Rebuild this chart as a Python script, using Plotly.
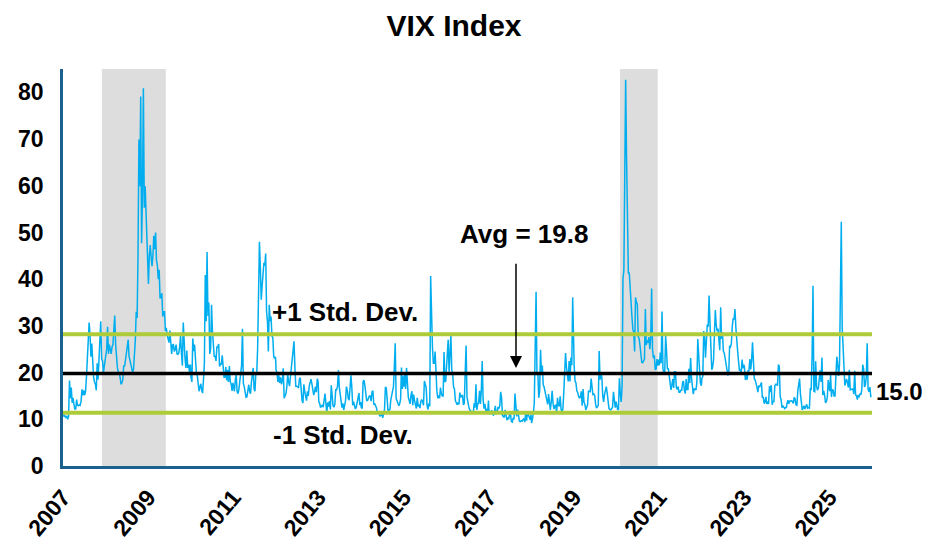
import pandas as pd
import plotly.graph_objects as go

# ---------------- data (approximate weekly VIX levels) -------------
vix_2007 = [11.5, 10.5, 10.8, 10.4, 10.6, 10.0, 10.6, 18.3, 14.5, 16.8, 13.5, 14.6,
            13.2, 12.2, 12.2, 14.2, 13.0, 12.9, 13.1, 13.0, 13.9, 16.4, 15.1, 16.2,
            15.2, 16.0, 19.0, 24.2, 25.2, 30.7, 28.2, 23.4, 26.2, 20.0, 19.0, 18.0,
            17.5, 16.2, 22.0, 18.5, 23.2, 28.0, 31.0, 22.9, 22.5, 20.0, 21.7, 22.5]
vix_2008 = [23.2, 25.0, 29.8, 24.0, 26.0, 25.0, 24.0, 25.5, 26.0, 29.0, 32.2, 26.0,
            22.5, 21.0, 20.2, 20.0, 19.0, 17.5, 17.8, 18.5, 21.5, 21.3, 22.7, 24.0,
            25.5, 27.0, 23.5, 22.5, 21.5, 20.5, 20.0, 20.8, 24.0, 27.0, 33.0, 31.7,
            45.0, 69.9, 59.9, 79.1, 47.7, 58.5, 80.9, 55.3, 59.9, 54.3, 44.9, 40.0]
vix_2009 = [39.0, 45.0, 47.3, 44.8, 42.8, 45.0, 49.3, 46.4, 50.0, 44.0, 43.0, 40.0,
            42.0, 36.0, 36.0, 37.0, 32.0, 33.0, 33.0, 28.9, 29.6, 28.0, 27.0, 26.4,
            29.0, 26.0, 24.0, 25.9, 26.0, 24.5, 25.0, 26.0, 24.0, 23.9, 24.2, 25.6,
            28.0, 24.0, 21.5, 30.7, 24.0, 22.9, 21.0, 24.7, 21.0, 21.7, 20.0, 21.7]
vix_2010 = [19.0, 18.0, 27.3, 24.6, 26.0, 22.7, 20.0, 19.5, 17.4, 16.0, 16.9, 17.6,
            16.2, 15.6, 18.5, 22.0, 40.9, 31.0, 45.8, 32.1, 35.0, 24.0, 25.1, 34.5,
            29.0, 24.9, 23.5, 23.5, 22.5, 25.5, 25.5, 26.1, 21.3, 22.0, 21.7, 23.7,
            20.0, 19.0, 19.0, 21.2, 18.3, 20.6, 18.0, 21.4, 18.0, 17.6, 16.1, 17.8]
vix_2011 = [17.1, 16.0, 18.5, 19.5, 16.0, 15.5, 16.4, 18.4, 19.0, 21.5, 29.4, 17.7,
            17.0, 16.0, 14.7, 14.8, 17.0, 17.4, 16.0, 15.5, 17.9, 19.0, 21.0, 16.5,
            16.0, 19.9, 20.0, 25.3, 37.0, 48.0, 42.7, 35.6, 38.5, 41.0, 43.5, 42.9,
            45.5, 33.0, 31.0, 24.5, 34.5, 31.0, 32.0, 27.8, 27.5, 23.5, 23.0, 23.4]
vix_2012 = [20.5, 20.0, 18.0, 19.4, 17.8, 19.0, 17.5, 18.4, 20.9, 14.5, 15.0, 15.5,
            17.0, 19.6, 18.0, 17.1, 19.0, 21.0, 22.0, 24.1, 26.7, 21.2, 17.1, 17.1,
            17.0, 16.7, 18.6, 18.9, 15.6, 14.0, 13.5, 17.5, 16.0, 14.5, 14.0, 16.0,
            15.0, 17.1, 18.0, 18.6, 17.6, 16.4, 15.2, 15.9, 17.0, 15.8, 18.7, 18.0]
vix_2013 = [13.8, 13.4, 12.5, 12.9, 13.0, 12.6, 14.5, 15.5, 13.4, 11.3, 13.6, 12.7,
            13.9, 12.1, 17.3, 13.5, 12.9, 12.6, 13.2, 16.3, 16.3, 17.1, 20.5, 16.9,
            14.9, 14.0, 12.5, 13.4, 12.0, 13.0, 14.0, 17.0, 16.2, 14.5, 14.1, 16.6,
            19.4, 17.0, 13.0, 13.8, 13.0, 12.2, 12.6, 13.7, 15.4, 15.6, 13.0, 13.7]
vix_2014 = [12.5, 12.3, 18.1, 18.4, 17.2, 15.0, 14.0, 14.0, 14.5, 15.0, 15.0, 13.9,
            15.9, 16.1, 13.1, 13.4, 12.9, 12.4, 11.4, 11.4, 11.0, 10.7, 10.8, 11.3,
            10.3, 11.8, 12.1, 16.9, 16.7, 14.2, 11.5, 12.0, 12.1, 14.1, 15.2, 16.3,
            17.0, 21.2, 26.3, 14.5, 14.0, 13.3, 12.9, 13.3, 14.3, 21.1, 16.5, 19.2]
vix_2015 = [17.0, 20.0, 16.5, 21.0, 17.3, 14.7, 14.0, 13.3, 15.2, 16.0, 13.0, 15.3,
            14.0, 13.0, 12.3, 14.6, 12.9, 13.0, 12.4, 13.8, 14.2, 13.8, 13.0, 18.2,
            17.0, 16.8, 13.0, 12.1, 13.4, 12.8, 40.7, 28.4, 25.6, 22.0, 22.0, 24.5,
            18.0, 16.0, 14.5, 15.1, 14.5, 16.8, 15.5, 15.0, 15.0, 24.4, 18.0, 18.2]
vix_2016 = [20.7, 24.4, 27.0, 20.2, 23.4, 28.1, 20.5, 19.8, 16.9, 16.5, 14.0, 13.6,
            13.1, 13.6, 13.2, 15.7, 14.7, 15.0, 15.2, 13.1, 13.5, 20.0, 25.8, 14.8,
            13.2, 12.7, 12.0, 11.9, 11.4, 11.3, 11.3, 13.4, 12.5, 17.5, 12.0, 13.3,
            13.5, 16.1, 13.3, 16.2, 22.5, 14.2, 12.3, 13.3, 11.8, 12.2, 11.4, 14.0]
vix_2017 = [11.3, 11.2, 11.5, 11.9, 11.0, 10.9, 11.5, 12.9, 11.2, 11.3, 12.5, 12.4,
            12.9, 15.9, 14.6, 10.8, 10.6, 10.4, 12.0, 10.4, 9.8, 10.4, 10.0, 11.2,
            11.2, 9.5, 9.4, 10.3, 10.0, 15.5, 11.3, 10.6, 12.1, 10.2, 9.6, 9.5,
            9.7, 9.6, 9.8, 10.2, 9.4, 11.4, 9.7, 11.3, 11.0, 10.2, 9.9, 11.0]
vix_2018 = [9.2, 10.2, 11.3, 13.5, 29.1, 37.3, 19.5, 19.9, 14.6, 16.0, 24.9, 19.9,
            21.5, 17.4, 16.9, 15.9, 14.8, 13.4, 13.2, 15.4, 12.7, 12.0, 13.8, 16.1,
            13.4, 12.2, 12.9, 13.0, 11.2, 14.6, 12.9, 12.9, 14.9, 12.1, 11.7, 12.1,
            15.7, 21.3, 24.2, 21.2, 19.5, 18.1, 22.5, 18.1, 23.2, 21.6, 36.1, 25.4]
vix_2019 = [21.4, 18.2, 17.8, 16.1, 15.7, 14.9, 14.5, 14.8, 16.0, 12.9, 16.5, 13.7,
            13.2, 12.0, 12.6, 13.1, 16.0, 16.0, 15.9, 18.7, 16.3, 15.3, 15.4, 15.1,
            13.3, 12.4, 12.7, 13.0, 24.6, 18.5, 19.9, 19.0, 15.0, 13.7, 15.3, 16.2,
            17.0, 15.6, 14.3, 12.3, 12.1, 12.0, 12.3, 12.6, 15.9, 13.9, 12.5, 13.8]
vix_2020 = [12.5, 12.1, 12.1, 18.8, 15.5, 13.7, 17.1, 40.1, 41.9, 57.8, 82.7, 66.0,
            46.8, 41.2, 41.4, 37.2, 34.0, 32.0, 29.3, 28.6, 24.5, 36.1, 35.1, 34.7,
            27.7, 27.3, 25.8, 24.5, 22.2, 22.1, 22.5, 22.9, 33.6, 25.9, 26.9, 26.4,
            27.6, 25.0, 27.4, 38.0, 24.9, 23.1, 23.7, 20.6, 20.8, 22.9, 21.5, 22.8]
vix_2021 = [21.6, 24.3, 22.0, 33.1, 20.9, 19.9, 19.9, 27.9, 24.7, 20.7, 20.9, 19.4,
            16.7, 16.3, 17.3, 18.6, 16.7, 20.2, 20.2, 16.8, 16.4, 17.0, 15.8, 15.8,
            16.2, 16.2, 17.9, 18.2, 16.2, 15.5, 18.6, 16.4, 16.4, 20.8, 17.8, 23.1,
            18.8, 16.3, 15.4, 16.5, 16.5, 16.3, 17.9, 27.2, 21.6, 20.6, 17.7, 17.2]
vix_2022 = [18.8, 19.2, 28.9, 27.7, 23.2, 27.4, 30.3, 29.8, 36.5, 30.8, 23.9, 20.6,
            21.2, 22.7, 28.2, 33.4, 30.2, 28.9, 29.4, 25.7, 24.8, 34.0, 27.2, 28.7,
            24.6, 24.2, 23.0, 21.3, 21.1, 19.5, 19.6, 25.6, 25.5, 26.3, 29.9, 31.6,
            31.4, 33.6, 29.7, 25.9, 24.6, 22.5, 20.5, 20.6, 20.0, 22.8, 20.9, 21.7]
vix_2023 = [21.1, 18.4, 19.8, 18.5, 20.5, 20.3, 22.9, 20.7, 22.6, 26.5, 21.7, 18.7,
            18.4, 17.1, 16.9, 15.8, 17.2, 16.9, 17.5, 17.9, 14.6, 14.8, 13.4, 13.6,
            14.8, 13.3, 13.6, 13.3, 17.1, 15.8, 17.3, 13.1, 13.8, 13.8, 17.2, 17.5,
            17.5, 17.2, 21.7, 21.3, 14.9, 14.2, 12.5, 12.9, 12.6, 12.3, 12.5, 12.5]
vix_2024 = [13.4, 14.1, 13.3, 13.9, 13.9, 14.0, 13.8, 13.4, 14.7, 14.4, 13.1, 13.0,
            16.0, 17.3, 18.7, 15.4, 12.7, 12.0, 12.4, 12.9, 12.2, 12.7, 13.2, 12.4,
            12.5, 12.4, 16.5, 16.4, 23.4, 38.6, 16.0, 15.9, 22.4, 17.1, 16.2, 16.7,
            19.2, 20.5, 18.0, 23.2, 15.2, 16.1, 15.2, 13.5, 13.8, 14.7, 18.4, 17.4]
vix_2025 = [16.0, 19.5, 14.8, 16.4, 16.2, 15.0, 15.0, 19.6, 23.4, 21.8, 19.3, 21.7,
            45.3, 52.3, 29.7, 24.8, 22.7, 17.2, 18.1, 18.6, 17.7, 16.8, 20.6, 16.3,
            16.4, 16.4, 16.5, 15.4, 20.4, 15.2, 15.1, 14.2, 15.2, 14.7, 15.5, 15.3,
            16.4, 21.7, 20.8, 16.9, 17.4, 19.1, 26.3, 16.4, 15.9, 16.9, 14.9, 15.0]

vix_by_year = {2007: vix_2007, 2008: vix_2008, 2009: vix_2009, 2010: vix_2010,
               2011: vix_2011, 2012: vix_2012, 2013: vix_2013, 2014: vix_2014,
               2015: vix_2015, 2016: vix_2016, 2017: vix_2017, 2018: vix_2018,
               2019: vix_2019, 2020: vix_2020, 2021: vix_2021, 2022: vix_2022,
               2023: vix_2023, 2024: vix_2024, 2025: vix_2025}

average = 19.8
std_dev = 8.4
recession_starts = ["2007-12-01", "2020-02-01"]
recession_ends = ["2009-06-01", "2020-12-20"]
tick_years = [2007, 2009, 2011, 2013, 2015, 2017, 2019, 2021, 2023, 2025]

title_text = "VIX Index"
avg_label = "Avg = 19.8"
plus_label = "+1 Std. Dev."
minus_label = "-1 Std. Dev."

# ---------------- build series ----------------
dates, values = [], []
for yr, vals in vix_by_year.items():
    d = pd.date_range(f"{yr}-01-03", f"{yr}-12-29", periods=len(vals))
    dates.extend(d)
    values.extend(vals)

last_value = values[-1]
last_date = dates[-1]

FONT = "Liberation Sans, Arial, Helvetica, sans-serif"
AXIS_COLOR = "#1B6190"
LINE_BLUE = "#00AEEF"
GREEN = "#AECB3A"

# page body adds an 8px offset; size the figure to fit the 930x547 window
W, H = 922, 539

fig = go.Figure()

fig.add_trace(go.Scatter(x=dates, y=values, mode="lines",
                         line=dict(color=LINE_BLUE, width=1.5),
                         showlegend=False, hoverinfo="x+y"))

for lvl, col, w in [(average + std_dev, GREEN, 4), (average - std_dev, GREEN, 4),
                    (average, "#000000", 3.5)]:
    fig.add_trace(go.Scatter(x=["2007-01-01", "2026-01-01"], y=[lvl, lvl],
                             mode="lines", line=dict(color=col, width=w),
                             showlegend=False, hoverinfo="skip", cliponaxis=False))

shapes = []
for s, e in zip(recession_starts, recession_ends):
    shapes.append(dict(type="rect", xref="x", yref="paper", x0=s, x1=e, y0=0, y1=1,
                       fillcolor="#DDDDDD", line=dict(width=0), layer="below"))

annotations = [
    dict(x="2017-10-30", y=49.6, xref="x", yref="y", text=f"<b>{avg_label}</b>",
         showarrow=False, font=dict(family=FONT, size=26, color="#000000")),
    dict(x="2017-08-22", y=average + 1.2, xref="x", yref="y",
         ax="2017-08-22", ay=43.6, axref="x", ayref="y", text="",
         showarrow=True, arrowhead=2, arrowsize=1.6, arrowwidth=1.5,
         arrowcolor="#000000"),
    dict(x="2011-11-10", y=32.9, xref="x", yref="y", text=f"<b>{plus_label}</b>",
         xanchor="left", showarrow=False,
         font=dict(family=FONT, size=26, color="#000000")),
    dict(x="2011-11-18", y=6.6, xref="x", yref="y", text=f"<b>{minus_label}</b>",
         xanchor="left", showarrow=False,
         font=dict(family=FONT, size=26, color="#000000")),
    dict(x=last_date, y=last_value, xref="x", yref="y",
         text=f"<b>{last_value:.1f}</b>", xanchor="left", xshift=2, yshift=4,
         showarrow=False, font=dict(family=FONT, size=24, color="#000000")),
]

fig.update_layout(
    width=W, height=H,
    margin=dict(l=55, r=58, t=61, b=81, autoexpand=False),
    paper_bgcolor="white", plot_bgcolor="white",
    title=dict(text=f"<b>{title_text}</b>", x=446 / W, xanchor="center",
               y=1 - 17 / H, yanchor="middle", yref="container",
               font=dict(family=FONT, size=30, color="#000000")),
    shapes=shapes, annotations=annotations, showlegend=False,
)

fig.update_xaxes(
    type="date", range=["2007-01-01", "2026-01-01"],
    tickvals=[f"{y}-01-01" for y in tick_years],
    ticktext=[str(y) for y in tick_years],
    tickangle=-50, showgrid=False, zeroline=False, automargin=False,
    showline=True, linecolor=AXIS_COLOR, linewidth=2.5, ticks="",
    ticklabelstandoff=6,
    tickfont=dict(family=FONT, size=23, color="#000000", weight="bold"),
)
fig.update_yaxes(
    range=[0, 85], tickvals=list(range(0, 90, 10)),
    showgrid=False, zeroline=False, automargin=False,
    showline=True, linecolor=AXIS_COLOR, linewidth=2.5, ticks="",
    ticklabelstandoff=12,
    tickfont=dict(family=FONT, size=23, color="#000000", weight="bold"),
)

fig.write_html("out.html")
